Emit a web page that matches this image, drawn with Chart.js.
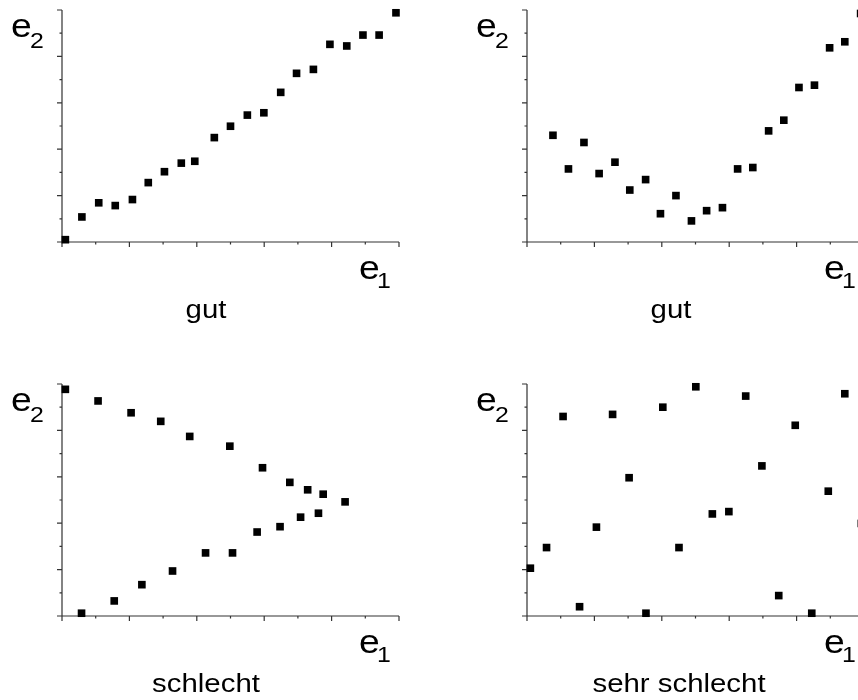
<!DOCTYPE html>
<html>
<head>
<meta charset="utf-8">
<script src="https://cdn.jsdelivr.net/npm/chart.js@4.4.1/dist/chart.umd.min.js"></script>
<style>
  html, body { margin: 0; padding: 0; background: #fff; overflow: hidden; width: 858px; height: 700px; }
  canvas { position: absolute; }
</style>
</head>
<body>
<canvas id="c1" width="440" height="350" style="left:0px;top:0px"></canvas>
<canvas id="c2" width="440" height="350" style="left:465px;top:0px"></canvas>
<canvas id="c3" width="440" height="350" style="left:0px;top:374px"></canvas>
<canvas id="c4" width="440" height="350" style="left:465px;top:374px"></canvas>
<script>
// Werte (Achsen 0..10)
const gutLinX = [0.1, 0.59, 1.09, 1.58, 2.09, 2.56, 3.04, 3.54, 3.94, 4.52, 5.0, 5.5, 5.99, 6.49, 6.96, 7.46, 7.95, 8.45, 8.93, 9.41, 9.91];
const gutLinY = [0.1, 1.08, 1.69, 1.57, 1.83, 2.56, 3.03, 3.40, 3.48, 4.50, 4.99, 5.47, 5.57, 6.45, 7.27, 7.44, 8.52, 8.45, 8.92, 8.92, 9.88];

const gutKurveX = [0.77, 1.23, 1.69, 2.14, 2.61, 3.05, 3.52, 3.96, 4.42, 4.88, 5.33, 5.8, 6.25, 6.70, 7.17, 7.62, 8.07, 8.53, 8.98, 9.43, 9.9];
const gutKurveY = [4.60, 3.15, 4.29, 2.95, 3.44, 2.24, 2.69, 1.22, 2.00, 0.91, 1.35, 1.48, 3.15, 3.21, 4.79, 5.25, 6.66, 6.76, 8.37, 8.63, 9.85];

const schlechtX = [0.1, 1.07, 2.05, 2.93, 3.79, 4.98, 5.95, 6.76, 7.29, 7.75, 8.4,
                   0.58, 1.55, 2.37, 3.28, 4.26, 5.06, 5.79, 6.47, 7.08, 7.61];
const schlechtY = [9.77, 9.27, 8.76, 8.39, 7.74, 7.32, 6.39, 5.76, 5.44, 5.25, 4.92,
                   0.12, 0.65, 1.35, 1.94, 2.72, 2.72, 3.62, 3.85, 4.26, 4.43];

const sehrSchlechtX = [0.1, 0.58, 1.07, 1.56, 2.06, 2.54, 3.03, 3.53, 4.03, 4.51, 5.01, 5.5, 5.99, 6.49, 6.97, 7.47, 7.96, 8.45, 8.94, 9.43, 9.92];
const sehrSchlechtY = [2.06, 2.95, 8.60, 0.40, 3.83, 8.69, 5.96, 0.12, 9.00, 2.95, 9.88, 4.40, 4.50, 9.48, 6.47, 0.88, 8.22, 0.12, 5.38, 9.58, 3.99];

const achsenTicks = [0, 1, 2, 3, 4, 5, 6, 7, 8, 9, 10];
const titel = ['gut', 'gut', 'schlecht', 'sehr schlecht'];

const schrift = '"Liberation Sans", Arial, sans-serif';

// Achsen mit kurzen/langen Strichen im Stil der Vorlage
const achsenPlugin = {
  id: 'achsen',
  beforeDatasetsDraw(chart) {
    const ctx = chart.ctx;
    const a = chart.chartArea;
    const xs = chart.scales.x, ys = chart.scales.y;
    ctx.save();
    ctx.strokeStyle = '#333';
    ctx.lineWidth = 1.2;
    ctx.beginPath();
    ctx.moveTo(a.left, a.top);
    ctx.lineTo(a.left, a.bottom);
    ctx.lineTo(a.right, a.bottom);
    achsenTicks.forEach(v => {
      const len = v % 2 === 0 ? 5 : 2.5;
      const py = ys.getPixelForValue(v);
      ctx.moveTo(a.left - len, py);
      ctx.lineTo(a.left, py);
      const px = xs.getPixelForValue(v);
      ctx.moveTo(px, a.bottom);
      ctx.lineTo(px, a.bottom + len);
    });
    ctx.stroke();
    ctx.restore();
  },
  afterDraw(chart, args, opts) {
    const ctx = chart.ctx;
    const a = chart.chartArea;
    const text = (s, x, y, size, align) => {
      ctx.save();
      ctx.font = size + 'px ' + schrift;
      ctx.fillStyle = '#000';
      ctx.textAlign = align || 'left';
      ctx.textBaseline = 'alphabetic';
      ctx.translate(x, y);
      ctx.scale(1.13, 1);
      ctx.fillText(s, 0, 0);
      ctx.restore();
    };
    text('e', a.left - 51, a.top + 27, 33);
    text('2', a.left - 32, a.top + 38, 22);
    text('e', a.left + 297, a.bottom + 37, 33);
    text('1', a.left + 315, a.bottom + 46, 22);
    text(opts.titel, a.left + 144 + (opts.versatz || 0), a.bottom + 76, 26, 'center');
  }
};

function punkte(xs, ys) {
  return xs.map((x, i) => ({ x: x, y: ys[i] }));
}

function zeichne(id, xs, ys, t, versatz) {
  return new Chart(document.getElementById(id), {
    type: 'scatter',
    data: {
      datasets: [{
        data: punkte(xs, ys),
        pointStyle: 'rect',
        pointRadius: 5.4,
        pointBorderWidth: 0,
        backgroundColor: '#000',
        borderColor: '#000',
        clip: false
      }]
    },
    options: {
      responsive: false,
      devicePixelRatio: 1,
      animation: false,
      layout: { padding: { left: 62, top: 10, right: 41, bottom: 108 } },
      scales: {
        x: { type: 'linear', min: 0, max: 10, display: false },
        y: { type: 'linear', min: 0, max: 10, display: false }
      },
      plugins: {
        legend: { display: false },
        tooltip: { enabled: false },
        achsen: { titel: t, versatz: versatz }
      }
    },
    plugins: [achsenPlugin]
  });
}

zeichne('c1', gutLinX, gutLinY, titel[0], 0);
zeichne('c2', gutKurveX, gutKurveY, titel[1], 0);
zeichne('c3', schlechtX, schlechtY, titel[2], 0);
zeichne('c4', sehrSchlechtX, sehrSchlechtY, titel[3], 8);
</script>
</body>
</html>
